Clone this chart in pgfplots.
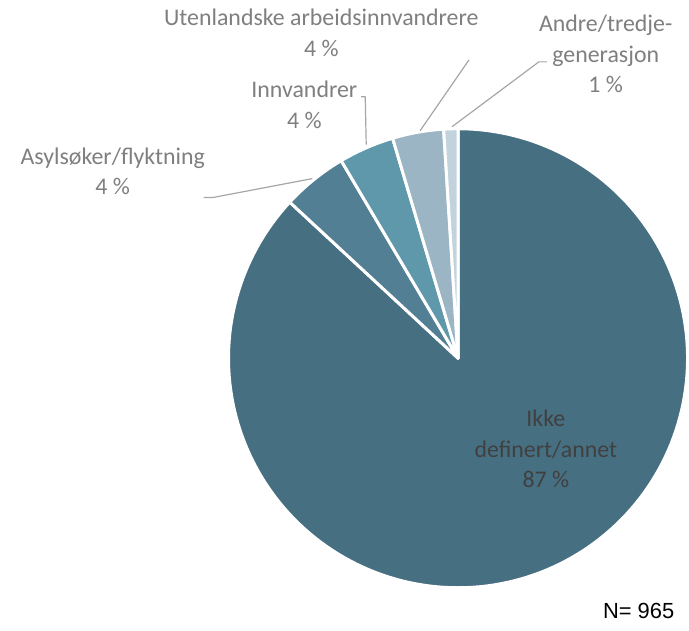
\documentclass[border=0pt]{standalone}
\usepackage{pgfplots}
\usepackage{pgfplotstable}
\pgfplotsset{compat=1.18}
\usepackage{fontspec}
\setmainfont{Carlito}
\newfontfamily\arialfont{Liberation Sans}
\definecolor{cIkke}{HTML}{476F82}
\definecolor{cAsyl}{HTML}{527F94}
\definecolor{cInnv}{HTML}{5F97AB}
\definecolor{cUten}{HTML}{9BB5C4}
\definecolor{cAndre}{HTML}{C3D3DD}
\definecolor{lblgray}{HTML}{7F7F7F}
\definecolor{linegray}{HTML}{A6A6A6}
\definecolor{intext}{HTML}{404040}

\pgfplotstableread{
label value
Ikke 86.9
Asyl 4.6
Innv 3.9
Uten 3.6
Andre 1.0
}\piedata
\pgfplotstablegetelem{0}{value}\of\piedata \let\vA\pgfplotsretval
\pgfplotstablegetelem{1}{value}\of\piedata \let\vB\pgfplotsretval
\pgfplotstablegetelem{2}{value}\of\piedata \let\vC\pgfplotsretval
\pgfplotstablegetelem{3}{value}\of\piedata \let\vD\pgfplotsretval
\pgfplotstablegetelem{4}{value}\of\piedata \let\vE\pgfplotsretval
% cumulative angles, clockwise from 12 o'clock
\pgfmathsetmacro\aO{90}
\pgfmathsetmacro\aA{\aO-3.6*\vA}
\pgfmathsetmacro\aB{\aA-3.6*\vB}
\pgfmathsetmacro\aC{\aB-3.6*\vC}
\pgfmathsetmacro\aD{\aC-3.6*\vD}
\pgfmathsetmacro\aE{\aD-3.6*\vE}

\begin{document}
\begin{tikzpicture}
\begin{axis}[
  hide axis, scale only axis,
  width=689bp, height=632bp,
  xmin=0, xmax=689, ymin=0, ymax=632,
  clip=false,
]
\path (axis cs:0,0) rectangle (axis cs:689,632);
\pgfplotsset{every axis plot/.append style={line join=round}}
\addplot[fill=cIkke, draw=white, line width=3pt, domain=\aA:\aO, samples=180, variable=\t]
  ({459+230*cos(\t)},{273+230*sin(\t)}) -- (axis cs:459,273) -- cycle;
\addplot[fill=cAsyl, draw=white, line width=3pt, domain=\aB:\aA, samples=20, variable=\t]
  ({459+230*cos(\t)},{273+230*sin(\t)}) -- (axis cs:459,273) -- cycle;
\addplot[fill=cInnv, draw=white, line width=3pt, domain=\aC:\aB, samples=20, variable=\t]
  ({459+230*cos(\t)},{273+230*sin(\t)}) -- (axis cs:459,273) -- cycle;
\addplot[fill=cUten, draw=white, line width=3pt, domain=\aD:\aC, samples=20, variable=\t]
  ({459+230*cos(\t)},{273+230*sin(\t)}) -- (axis cs:459,273) -- cycle;
\addplot[fill=cAndre, draw=white, line width=3pt, domain=\aE:\aD, samples=10, variable=\t]
  ({459+230*cos(\t)},{273+230*sin(\t)}) -- (axis cs:459,273) -- cycle;

% leader lines
\addplot[linegray, line width=1.2pt, mark=none] coordinates {(204,434) (213,434) (313,453)};
\addplot[linegray, line width=1.2pt, mark=none] coordinates {(362,535) (366,535) (367,487)};
\addplot[linegray, line width=1.2pt, mark=none] coordinates {(470,572) (421,501)};
\addplot[linegray, line width=1.2pt, mark=none] coordinates {(548,570) (540,570) (453,505)};

% labels
\tikzset{lbl/.style={align=center, inner sep=0pt, font=\fontsize{24}{30.5}\selectfont}}
\node[lbl, text=lblgray] at (axis cs:322,599) {Utenlandske arbeidsinnvandrere\\4 \%};
\node[lbl, text=lblgray] at (axis cs:607,578) {Andre/tredje-\\generasjon\\1 \%};
\node[lbl, text=lblgray] at (axis cs:305,527) {Innvandrer\\4 \%};
\node[lbl, text=lblgray] at (axis cs:113,460) {Asylsøker/flyktning\\4 \%};
\node[lbl, text=intext] at (axis cs:547,182) {Ikke\\definert/annet\\87 \%};
\node[text=black, inner sep=0pt, font=\arialfont\fontsize{22}{26}\selectfont] at (axis cs:640,20) {N= 965};
\end{axis}
\end{tikzpicture}
\end{document}
